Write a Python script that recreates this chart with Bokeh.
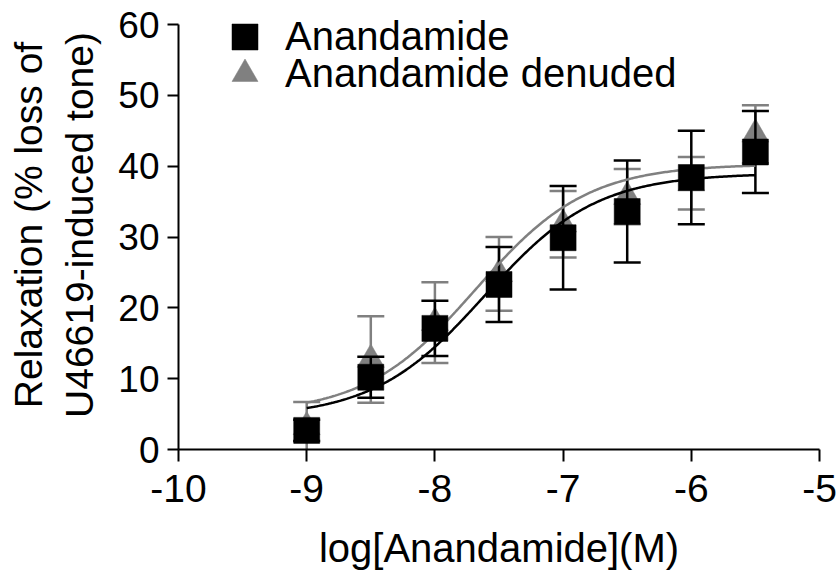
import numpy as np
from bokeh.plotting import figure
from bokeh.models import ColumnDataSource, Legend, LegendItem, FixedTicker
from bokeh.embed import file_html
from bokeh.resources import INLINE

# ---- data ----
log_conc = [-9.0, -8.5, -8.0, -7.5, -7.0, -6.5, -6.0, -5.5]
intact_mean = [2.7, 10.2, 17.1, 23.3, 29.9, 33.6, 38.4, 42.0]
intact_err = [1.5, 2.9, 3.9, 5.3, 7.3, 7.2, 6.6, 5.8]
denuded_mean = [3.2, 12.7, 17.9, 24.8, 31.8, 35.7, 37.6, 44.5]
denuded_err = [3.5, 6.1, 5.7, 5.2, 4.7, 3.9, 3.7, 4.1]

# fitted sigmoidal dose-response parameters
intact_fit = {"bottom": 4.5, "top": 39.0, "logec50": -7.61, "hill": 1.0}
denuded_fit = {"bottom": 5.0, "top": 40.3, "logec50": -7.68, "hill": 1.0}
fit_span = [-9.0, -5.5]

x_ticks = [-10, -9, -8, -7, -6, -5]
y_ticks = [0, 10, 20, 30, 40, 50, 60]
y_axis_span = (0, 60)

series_names = ["Anandamide", "Anandamide denuded"]
x_title = "log[Anandamide](M)"
y_title = "Relaxation (% loss of\nU46619-induced tone)"

BLACK = "#000000"
GREY = "#808080"
FONT = "Liberation Sans"


def sigmoid(x, f):
    return f["bottom"] + (f["top"] - f["bottom"]) / (1 + 10 ** ((f["logec50"] - x) * f["hill"]))


def make_src(mean, err):
    return ColumnDataSource(dict(
        x=log_conc, y=mean,
        lo=[m - e for m, e in zip(mean, err)],
        hi=[m + e for m, e in zip(mean, err)],
    ))


src_a = make_src(intact_mean, intact_err)
src_d = make_src(denuded_mean, denuded_err)

xf = np.linspace(fit_span[0], fit_span[1], 300)
fit_a = ColumnDataSource(dict(x=xf, y=sigmoid(xf, intact_fit)))
fit_d = ColumnDataSource(dict(x=xf, y=sigmoid(xf, denuded_fit)))

# frame runs to the top edge; the visible y axis stops at 60
p = figure(width=837, height=575, x_range=(-10, -5), y_range=(0, 63.39),
           output_backend="svg", toolbar_location=None,
           min_border_left=178, min_border_right=18,
           min_border_top=0, min_border_bottom=126)
p.outline_line_color = None
p.grid.visible = False
p.background_fill_color = "white"

# denuded (grey) first, behind
p.segment(x0="x", y0="lo", x1="x", y1="hi", source=src_d, line_color=GREY, line_width=2.5)
p.scatter(x="x", y="lo", source=src_d, marker="dash", size=27, line_color=GREY, line_width=2.5)
p.scatter(x="x", y="hi", source=src_d, marker="dash", size=27, line_color=GREY, line_width=2.5)
tri = p.scatter(x="x", y="y", source=src_d, marker="triangle", size=27,
                fill_color=GREY, line_color=GREY, line_width=0.5)

# intact (black)
p.segment(x0="x", y0="lo", x1="x", y1="hi", source=src_a, line_color=BLACK, line_width=2.5)
p.scatter(x="x", y="lo", source=src_a, marker="dash", size=27, line_color=BLACK, line_width=2.5)
p.scatter(x="x", y="hi", source=src_a, marker="dash", size=27, line_color=BLACK, line_width=2.5)

p.line(x="x", y="y", source=fit_d, line_color=GREY, line_width=2.5)
p.line(x="x", y="y", source=fit_a, line_color=BLACK, line_width=2.5)

sq = p.scatter(x="x", y="y", source=src_a, marker="square", size=26,
               fill_color=BLACK, line_color=BLACK, line_width=0.5)

# axes
for ax in (p.xaxis[0], p.yaxis[0]):
    ax.axis_line_width = 2
    ax.axis_line_color = BLACK
    ax.major_tick_line_width = 2
    ax.major_tick_line_color = BLACK
    ax.major_tick_in = 0
    ax.minor_tick_line_color = None
    ax.major_label_text_font = FONT
    ax.major_label_text_color = BLACK
    ax.axis_label_text_font = FONT
    ax.axis_label_text_font_style = "normal"
    ax.axis_label_text_color = BLACK

p.xaxis.ticker = FixedTicker(ticks=x_ticks)
p.yaxis.ticker = FixedTicker(ticks=y_ticks)
p.yaxis.bounds = y_axis_span
p.xaxis.major_label_overrides = {t: str(t) for t in x_ticks}
p.xaxis.major_tick_out = 12
p.yaxis.major_tick_out = 11
p.xaxis.major_label_text_font_size = "39px"
p.yaxis.major_label_text_font_size = "37px"
p.xaxis.major_label_standoff = 13
p.yaxis.major_label_standoff = 8
p.xaxis.axis_label = x_title
p.yaxis.axis_label = y_title
p.xaxis.axis_label_text_font_size = "40px"
p.yaxis.axis_label_text_font_size = "39px"
p.yaxis.axis_label_text_line_height = 1.2
p.xaxis.axis_label_standoff = 21
p.yaxis.axis_label_standoff = 14

legend_style = dict(glyph_width=65, glyph_height=65, padding=0, margin=0, label_standoff=8,
                    border_line_color=None, background_fill_color=None,
                    label_text_font=FONT, label_text_font_size="40px", label_text_color=BLACK)
legend_a = Legend(items=[LegendItem(label=series_names[0], renderers=[sq])],
                  location=(34, 380), **legend_style)
legend_d = Legend(items=[LegendItem(label=series_names[1], renderers=[tri])],
                  location=(34, 343), **legend_style)
p.add_layout(legend_a)
p.add_layout(legend_d)

open("out.html", "w").write(file_html(p, INLINE))
